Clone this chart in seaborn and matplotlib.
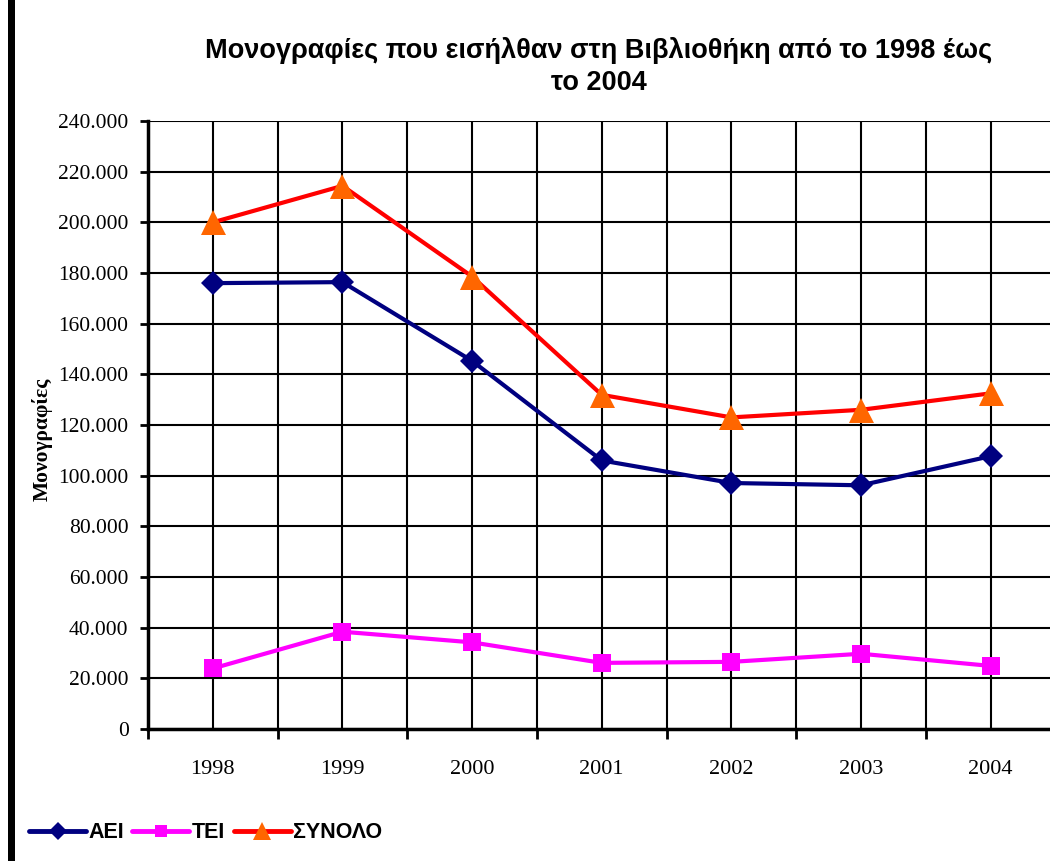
import numpy as np
import pandas as pd
import matplotlib
matplotlib.use("Agg")
import matplotlib.pyplot as plt
import seaborn as sns
from matplotlib.ticker import FuncFormatter, FixedLocator
from matplotlib.lines import Line2D

years = ["1998", "1999", "2000", "2001", "2002", "2003", "2004"]
aei = [176000, 176400, 145300, 106000, 97100, 96200, 107700]
tei = [23900, 38400, 34200, 26100, 26500, 29700, 24900]
synolo = [200000, 214400, 178600, 131900, 123000, 126000, 132500]
series_names = ["ΑΕΙ", "ΤΕΙ", "ΣΥΝΟΛΟ"]

title = "Μονογραφίες που εισήλθαν στη Βιβλιοθήκη από το 1998 έως\nτο 2004"
ylabel = "Μονογραφίες"

sns.set_theme(style="white")
plt.rcParams["font.family"] = ["Liberation Serif", "DejaVu Serif"]
plt.rcParams["text.color"] = "black"
plt.rcParams["xtick.color"] = "black"
plt.rcParams["ytick.color"] = "black"
plt.rcParams["axes.labelcolor"] = "black"

pos = np.arange(len(years))
df = pd.DataFrame({"pos": pos, "ΑΕΙ": aei, "ΤΕΙ": tei, "ΣΥΝΟΛΟ": synolo})

W, H = 1050, 861
fig = plt.figure(figsize=(W / 100, H / 100), dpi=100)
ax = fig.add_axes([148 / W, 132 / H, 907.5 / W, 608 / H])

styles = {
    "ΑΕΙ": dict(color="#000080", marker="D", ms=12.5, mfc="#000080"),
    "ΤΕΙ": dict(color="#FF00FF", marker="s", ms=13, mfc="#FF00FF"),
    "ΣΥΝΟΛΟ": dict(color="#FF0000", marker="^", ms=18, mfc="#FF6600"),
}
for name in series_names:
    st = styles[name]
    sns.lineplot(data=df, x="pos", y=name, ax=ax, color=st["color"],
                 linewidth=3, marker=st["marker"], markersize=st["ms"],
                 markerfacecolor=st["mfc"], markeredgewidth=0, zorder=3,
                 clip_on=False)

ax.set_xlim(-0.5, len(years) - 0.5)
ax.set_ylim(0, 240000)
ax.set_yticks(np.arange(0, 240001, 20000))
ax.yaxis.set_major_formatter(FuncFormatter(lambda v, p: f"{int(v):,}".replace(",", ".")))
ax.set_xticks(pos)
ax.set_xticklabels(years)
ax.xaxis.set_minor_locator(FixedLocator(np.arange(-0.5, len(years), 1.0)))

ax.grid(True, which="major", axis="both", color="black", linewidth=1.5)
ax.grid(True, which="minor", axis="x", color="black", linewidth=1.5)
ax.set_axisbelow(True)

ax.tick_params(axis="x", which="major", length=0, pad=22, labelsize=16)
ax.tick_params(axis="x", which="minor", length=7, width=2, direction="out", color="black", bottom=True)
ax.tick_params(axis="y", which="major", length=6, width=2, direction="out", color="black",
               pad=8, labelsize=15.5, left=True)
for lab in ax.get_xticklabels() + ax.get_yticklabels():
    lab.set_color("black")

for s in ["top", "right"]:
    ax.spines[s].set_visible(False)
for s in ["left", "bottom"]:
    ax.spines[s].set_color("black")
    ax.spines[s].set_linewidth(2.5)
ax.set_xlabel("")
ax.set_ylabel("")

fig.text(42 / W, 1 - 439 / H, ylabel, rotation=90, ha="center", va="center",
         fontsize=15.5, fontweight="bold", color="black",
         family=["Liberation Serif", "DejaVu Serif"])

fig.text(599 / W, 1 - 37 / H, title, ha="center", va="top", fontsize=19.5,
         fontweight="bold", color="black",
         family=["Liberation Sans", "DejaVu Sans"], linespacing=1.3)

handles = []
for name in series_names:
    st = styles[name]
    handles.append(Line2D([], [], color=st["color"], linewidth=3.5, marker=st["marker"],
                          markersize=st["ms"] * 0.7, markerfacecolor=st["mfc"], markeredgewidth=0))
leg = fig.legend(handles, series_names, loc="center left", bbox_to_anchor=(29 / W, 1 - 833 / H),
                 ncol=3, frameon=False, borderpad=0, borderaxespad=0, handlelength=2.65,
                 handletextpad=0.1, columnspacing=0.4,
                 prop={"family": "Liberation Sans", "weight": "bold", "size": 15.5})
for t in leg.get_texts():
    t.set_color("black")

fig.add_artist(plt.Rectangle((8 / W, 0), 7 / W, 1, transform=fig.transFigure,
                             color="black", lw=0))

fig.savefig("out.png", dpi=100, facecolor="white")
